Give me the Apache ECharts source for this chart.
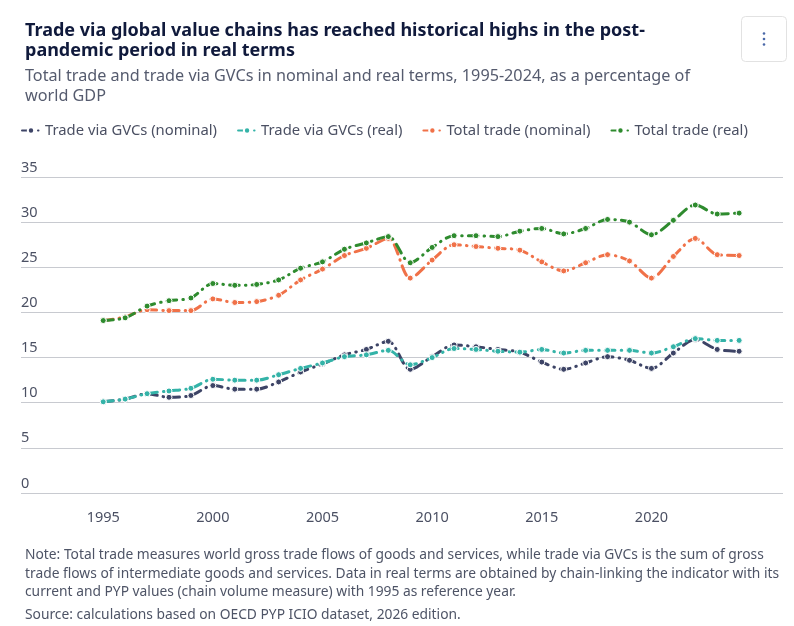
<!DOCTYPE html>
<html>
<head>
<meta charset="utf-8">
<script src="https://cdn.jsdelivr.net/npm/echarts@6/dist/echarts.min.js"></script>
<style>
html,body{margin:0;padding:0;background:#fff;}
#chart{width:794px;height:626px;}
</style>
</head>
<body>
<div id="chart"></div>
<script>
var years = [1995,1996,1997,1998,1999,2000,2001,2002,2003,2004,2005,2006,2007,2008,2009,2010,2011,2012,2013,2014,2015,2016,2017,2018,2019,2020,2021,2022,2023,2024];
var gvcNominal = [10.1,10.4,11.0,10.6,10.8,11.9,11.5,11.5,12.3,13.4,14.3,15.3,15.9,16.8,13.7,15.1,16.4,16.2,15.9,15.6,14.5,13.7,14.4,15.1,14.7,13.8,15.5,17.0,15.9,15.7];
var gvcReal = [10.1,10.4,11.0,11.3,11.6,12.6,12.5,12.5,13.1,13.8,14.4,15.1,15.3,15.8,14.2,15.0,16.0,15.9,15.7,15.6,15.9,15.5,15.8,15.8,15.8,15.5,16.2,17.1,16.9,16.9];
var totalNominal = [19.1,19.5,20.3,20.2,20.2,21.5,21.1,21.2,21.9,23.6,24.8,26.3,27.1,28.2,23.8,25.8,27.5,27.3,27.1,26.9,25.6,24.6,25.5,26.4,25.7,23.8,26.2,28.2,26.4,26.3];
var totalReal = [19.1,19.4,20.7,21.3,21.6,23.2,23.0,23.1,23.6,24.9,25.6,27.0,27.7,28.4,25.5,27.2,28.5,28.5,28.4,29.0,29.3,28.7,29.3,30.3,30.0,28.6,30.2,31.9,30.9,31.0];
var seriesNames = ['Trade via GVCs (nominal)','Trade via GVCs (real)','Total trade (nominal)','Total trade (real)'];
var seriesColors = ['#3d4466','#34b3a8','#f07148','#2e8b2e'];
var xTickLabels = [1995,2000,2005,2010,2015,2020];

var titleText = 'Trade via global value chains has reached historical highs in the post-\npandemic period in real terms';
var subtitleText = 'Total trade and trade via GVCs in nominal and real terms, 1995-2024, as a percentage of\nworld GDP';
var noteText = 'Note: Total trade measures world gross trade flows of goods and services, while trade via GVCs is the sum of gross\ntrade flows of intermediate goods and services. Data in real terms are obtained by chain-linking the indicator with its\ncurrent and PYP values (chain volume measure) with 1995 as reference year.';
var sourceText = 'Source: calculations based on OECD PYP ICIO dataset, 2026 edition.';

var FONT = '"Noto Sans", "Open Sans", sans-serif';
var allValues = [gvcNominal, gvcReal, totalNominal, totalReal];

function pairs(vals){ return years.map(function(y,i){ return [y, vals[i]]; }); }

var series = seriesNames.map(function(name, i){
  return {
    name: name,
    type: 'line',
    data: pairs(allValues[i]),
    smooth: 0.3,
    symbol: 'circle',
    symbolSize: 6,
    showSymbol: true,
    itemStyle: { color: seriesColors[i], borderColor: '#fff', borderWidth: 1 },
    lineStyle: { color: seriesColors[i], width: 3, type: [10, 6, 0.5, 6], cap: 'round' },
    emphasis: { disabled: true }
  };
});

var chart = echarts.init(document.getElementById('chart'), null, { renderer: 'canvas' });
chart.setOption({
  backgroundColor: '#fff',
  animation: false,
  title: [
    { text: titleText, left: 20, top: 16, textStyle: { fontFamily: FONT, fontSize: 18, fontWeight: 'bold', color: '#101a3c', lineHeight: 20 } },
    { text: subtitleText, left: 20, top: 61, textStyle: { fontFamily: FONT, fontSize: 16.2, fontWeight: 'normal', color: '#555b6e', lineHeight: 20 } },
    { text: noteText, left: 20, top: 541, textStyle: { fontFamily: FONT, fontSize: 13.8, fontWeight: 'normal', color: '#4e5466', lineHeight: 18.5 } },
    { text: sourceText, left: 20, top: 601, textStyle: { fontFamily: FONT, fontSize: 13.8, fontWeight: 'normal', color: '#4e5466', lineHeight: 18.5 } }
  ],
  legend: {
    left: 16, top: 118,
    itemWidth: 18, itemHeight: 8, itemGap: 20,
    textStyle: { fontFamily: FONT, fontSize: 14.8, color: '#4b5063' },
    data: seriesNames
  },
  grid: { left: 21, right: 11, top: 177, bottom: 133, containLabel: false },
  xAxis: {
    type: 'value',
    min: 1991.25, max: 2026,
    axisLine: { show: false },
    axisTick: { show: false },
    splitLine: { show: false },
    axisLabel: {
      customValues: xTickLabels,
      margin: 17,
      fontFamily: FONT, fontSize: 14.5, color: '#4b5063',
      formatter: function(v){ return String(v); }
    }
  },
  yAxis: {
    type: 'value',
    min: 0, max: 35, interval: 5,
    axisLine: { show: false },
    axisTick: { show: false },
    splitLine: { show: true, lineStyle: { color: '#c8cad0', width: 1 } },
    axisLabel: {
      inside: true, margin: 0, align: 'left', verticalAlign: 'bottom',
      padding: [0, 0, 2, 0],
      fontFamily: FONT, fontSize: 14.5, color: '#4b5063'
    }
  },
  graphic: [
    { type: 'rect', shape: { x: 741.5, y: 16.5, width: 45, height: 45, r: 4 }, style: { fill: '#fff', stroke: '#e2e2e2', lineWidth: 1 } },
    { type: 'circle', shape: { cx: 764, cy: 33.5, r: 1.3 }, style: { fill: '#4a68a8' } },
    { type: 'circle', shape: { cx: 764, cy: 39, r: 1.3 }, style: { fill: '#4a68a8' } },
    { type: 'circle', shape: { cx: 764, cy: 44.5, r: 1.3 }, style: { fill: '#4a68a8' } }
  ],
  series: series
});
</script>
</body>
</html>
